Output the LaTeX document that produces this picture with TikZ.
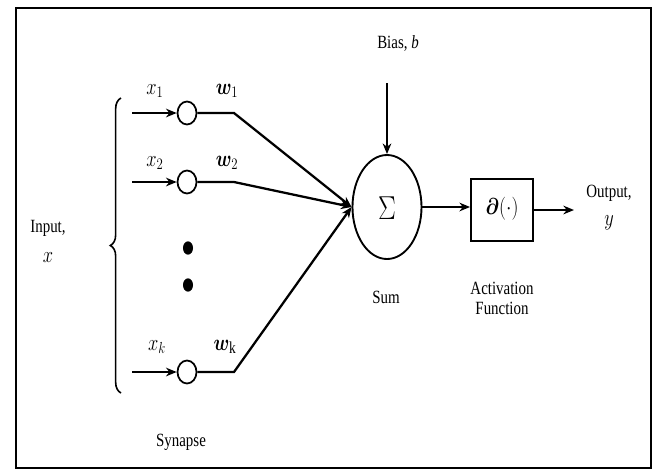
\documentclass[tikz,border=0pt]{standalone}
\usepackage{amsmath,bm}
\usepackage{fontspec}
\setmainfont{Liberation Serif}
\usetikzlibrary{arrows.meta,decorations.pathreplacing,shapes.geometric}

\begin{document}
\begin{tikzpicture}[x=0.75pt,y=-0.75pt,
  wire/.style={line width=1.7pt},
  tip/.style={-{Stealth[length=8pt,width=6.5pt]}},
  syn/.style={draw,ellipse,line width=1.3pt,inner sep=0pt,minimum width=14.25pt,minimum height=17.25pt},
  dotn/.style={fill,ellipse,inner sep=0pt,minimum width=7.5pt,minimum height=10pt},
  lbl/.style={font=\fontsize{14}{16}\selectfont,xscale=0.8,transform shape,inner sep=0pt,align=center},
  mlbl/.style={font=\fontsize{18}{20}\selectfont,xscale=0.8,transform shape,inner sep=0pt}]
\useasboundingbox (0,0) rectangle (659,472);

% outer frame
\draw[line width=2pt] (16,8) rectangle (651,468);

% synapse circles
\node[syn] (c1) at (187,113) {};
\node[syn] (c2) at (187,182) {};
\node[syn] (ck) at (187,372) {};

% input stubs and weight bends
\coordinate (i1) at (132,113);
\coordinate (i2) at (132,182);
\coordinate (ik) at (132,372);
\coordinate (b1) at (234,113);
\coordinate (b2) at (234,182);
\coordinate (bk) at (234,372);

% summing junction and activation block
\node[draw,ellipse,line width=1.4pt,inner sep=0pt,minimum width=51.75pt,minimum height=78pt] (sum) at (387,207) {};
\node[font=\fontsize{26}{28}\selectfont,xscale=0.8,transform shape] (sig) at (387,208) {$\Sigma$};
\node[draw,line width=1.4pt,inner sep=0pt,minimum width=46.5pt,minimum height=46.5pt] (act) at (502,210) {};
\node[font=\fontsize{19}{21}\selectfont,xscale=0.85,transform shape] (actf) at (502,209) {$\bm{\partial}(\cdot)$};

% ellipsis dots
\node[dotn] (d1) at (188,248) {};
\node[dotn] (d2) at (188,285) {};

% inputs into synapses
\draw[wire,tip] (i1) -- (c1);
\draw[wire,tip] (i2) -- (c2);
\draw[wire,tip] (ik) -- (ck);

% weighted lines into the sum
\draw[wire,tip] (c1) -- (b1) -- (sum.west);
\draw[wire,tip] (c2) -- (b2) -- (sum.west);
\draw[wire,tip] (ck) -- (bk) -- (sum.west);

% bias
\coordinate (bt) at (387,83);
\draw[line width=1.2pt,tip] (bt) -- (sum.north);

% sum to activation, activation to output
\draw[wire,tip] (sum.east) -- (sum.east -| act.west);
\coordinate (oe) at (574,210);
\draw[wire,tip] (act.east) -- (oe);

% input brace
\draw[line width=1.2pt,decorate,decoration={brace,amplitude=8pt}] (121,393) -- (121,98);

% labels
\node[mlbl] (lx1) at (155,91) {$x_1$};
\node[mlbl] (lw1) at (227,91) {$\bm{w}_1$};
\node[mlbl] (lx2) at (155,163) {$x_2$};
\node[mlbl] (lw2) at (227,163) {$\bm{w}_2$};
\node[mlbl] (lxk) at (157,347) {$x_k$};
\node[mlbl] (lwk) at (225,347) {$\bm{w}_\mathrm{k}$};

\node[lbl] (inp) at (48,228) {Input,};
\node[mlbl] (inx) at (48,258) {$x$};
\node[lbl] (syl) at (181,442) {Synapse};
\node[lbl] (bias) at (398,43) {Bias, \textit{b}};
\node[lbl] (suml) at (386,297) {Sum};
\node[lbl] (actl) at (502,298) {Activation\\[-1pt]Function};
\node[lbl] (outl) at (609,193) {Output,};
\node[mlbl] (outy) at (609,223) {$y$};
\end{tikzpicture}
\end{document}
